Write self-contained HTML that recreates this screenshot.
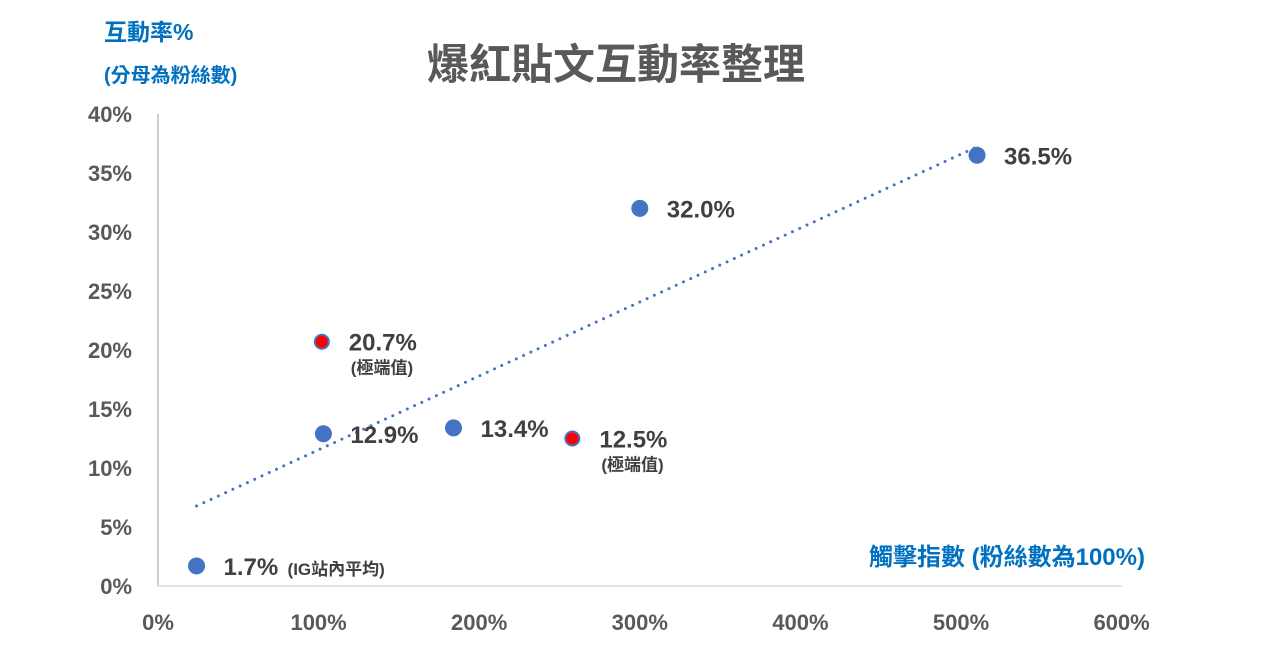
<!DOCTYPE html>
<html><head><meta charset="utf-8"><style>
body{margin:0;background:#fff;}
svg{display:block;font-family:"Liberation Sans","Noto Sans CJK TC",sans-serif;font-weight:bold;}
</style></head><body>
<svg id="chart" width="1274" height="672" viewBox="0 0 1274 672">
<text x="616" y="79" text-anchor="middle" font-size="42" fill="#595959">爆紅貼文互動率整理</text>
<text x="104" y="40" font-size="23" fill="#0070C0">互動率%</text>
<text x="104" y="82" font-size="20" fill="#0070C0">(分母為粉絲數)</text>
<text x="1145" y="565" text-anchor="end" font-size="24" fill="#0070C0">觸擊指數 (粉絲數為100%)</text>
<g id="axes"></g><g id="trend"></g><g id="marks"></g>
</svg>
<script>
const xVals=[24,102,103,184,258,300,510];
const yVals=[1.7,20.7,12.9,13.4,12.5,32.0,36.5];
const pointLabels=["1.7%","20.7%","12.9%","13.4%","12.5%","32.0%","36.5%"];
const pointNotes=["(IG站內平均)","(極端值)","","","(極端值)","",""];
const outliers=[false,true,false,false,true,false,false];
const xTicks=[0,100,200,300,400,500,600];
const yTicks=[0,5,10,15,20,25,30,35,40];
const NS="http://www.w3.org/2000/svg";
const X=v=>158+v*1.606, Y=v=>586-v*11.8;
function mk(p,t,a){const e=document.createElementNS(NS,t);for(const k in a)e.setAttribute(k,a[k]);p.appendChild(e);return e;}
const axes=document.getElementById('axes');
const ya=mk(axes,'line',{x1:X(0),y1:Y(40),x2:X(0),y2:Y(0),stroke:'#bfbfbf','stroke-width':1.5});


const xa=mk(axes,'line',{x1:X(0),y1:Y(0),x2:X(600),y2:Y(0),stroke:'#d9d9d9','stroke-width':1.5});


yTicks.forEach(t=>{const e=mk(axes,'text',{x:132,y:Y(t)+8,'text-anchor':'end','font-size':22,fill:'#595959'});e.textContent=t+'%';

});
xTicks.forEach(t=>{const e=mk(axes,'text',{x:X(t),y:630,'text-anchor':'middle','font-size':22,fill:'#595959'});e.textContent=t+'%';

});
const n=xVals.length,mx=xVals.reduce((a,b)=>a+b)/n,my=yVals.reduce((a,b)=>a+b)/n;
let sxy=0,sxx=0;xVals.forEach((x,i)=>{sxy+=(x-mx)*(yVals[i]-my);sxx+=(x-mx)*(x-mx);});
const sl=sxy/sxx,ic=my-sl*mx,x0=Math.min(...xVals),x1=Math.max(...xVals);
const tl=mk(document.getElementById('trend'),'line',{x1:X(x0),y1:Y(ic+sl*x0),x2:X(x1),y2:Y(ic+sl*x1),stroke:'#4472C4','stroke-width':3,'stroke-dasharray':'0 8','stroke-linecap':'round'});


const marks=document.getElementById('marks');
xVals.forEach((x,i)=>{
 const c=mk(marks,'circle',{cx:X(x),cy:Y(yVals[i]),r:outliers[i]?7:8.5,fill:outliers[i]?'#FF0000':'#4472C4',stroke:'#4472C4','stroke-width':outliers[i]?2:0});
 
 
 const lx=X(x)+27,ly=Y(yVals[i])+9;
 const t=mk(marks,'text',{x:lx,y:ly,'font-size':24,fill:'#404040'});t.textContent=pointLabels[i];
 
 
 if(pointNotes[i]){
  const inline=i===0;
  const nt=mk(marks,'text',{x:inline?lx+64:lx+2,y:inline?ly:ly+23,'font-size':17,fill:'#404040'});nt.textContent=pointNotes[i];
  
  
 }
});
</script>
</body></html>
